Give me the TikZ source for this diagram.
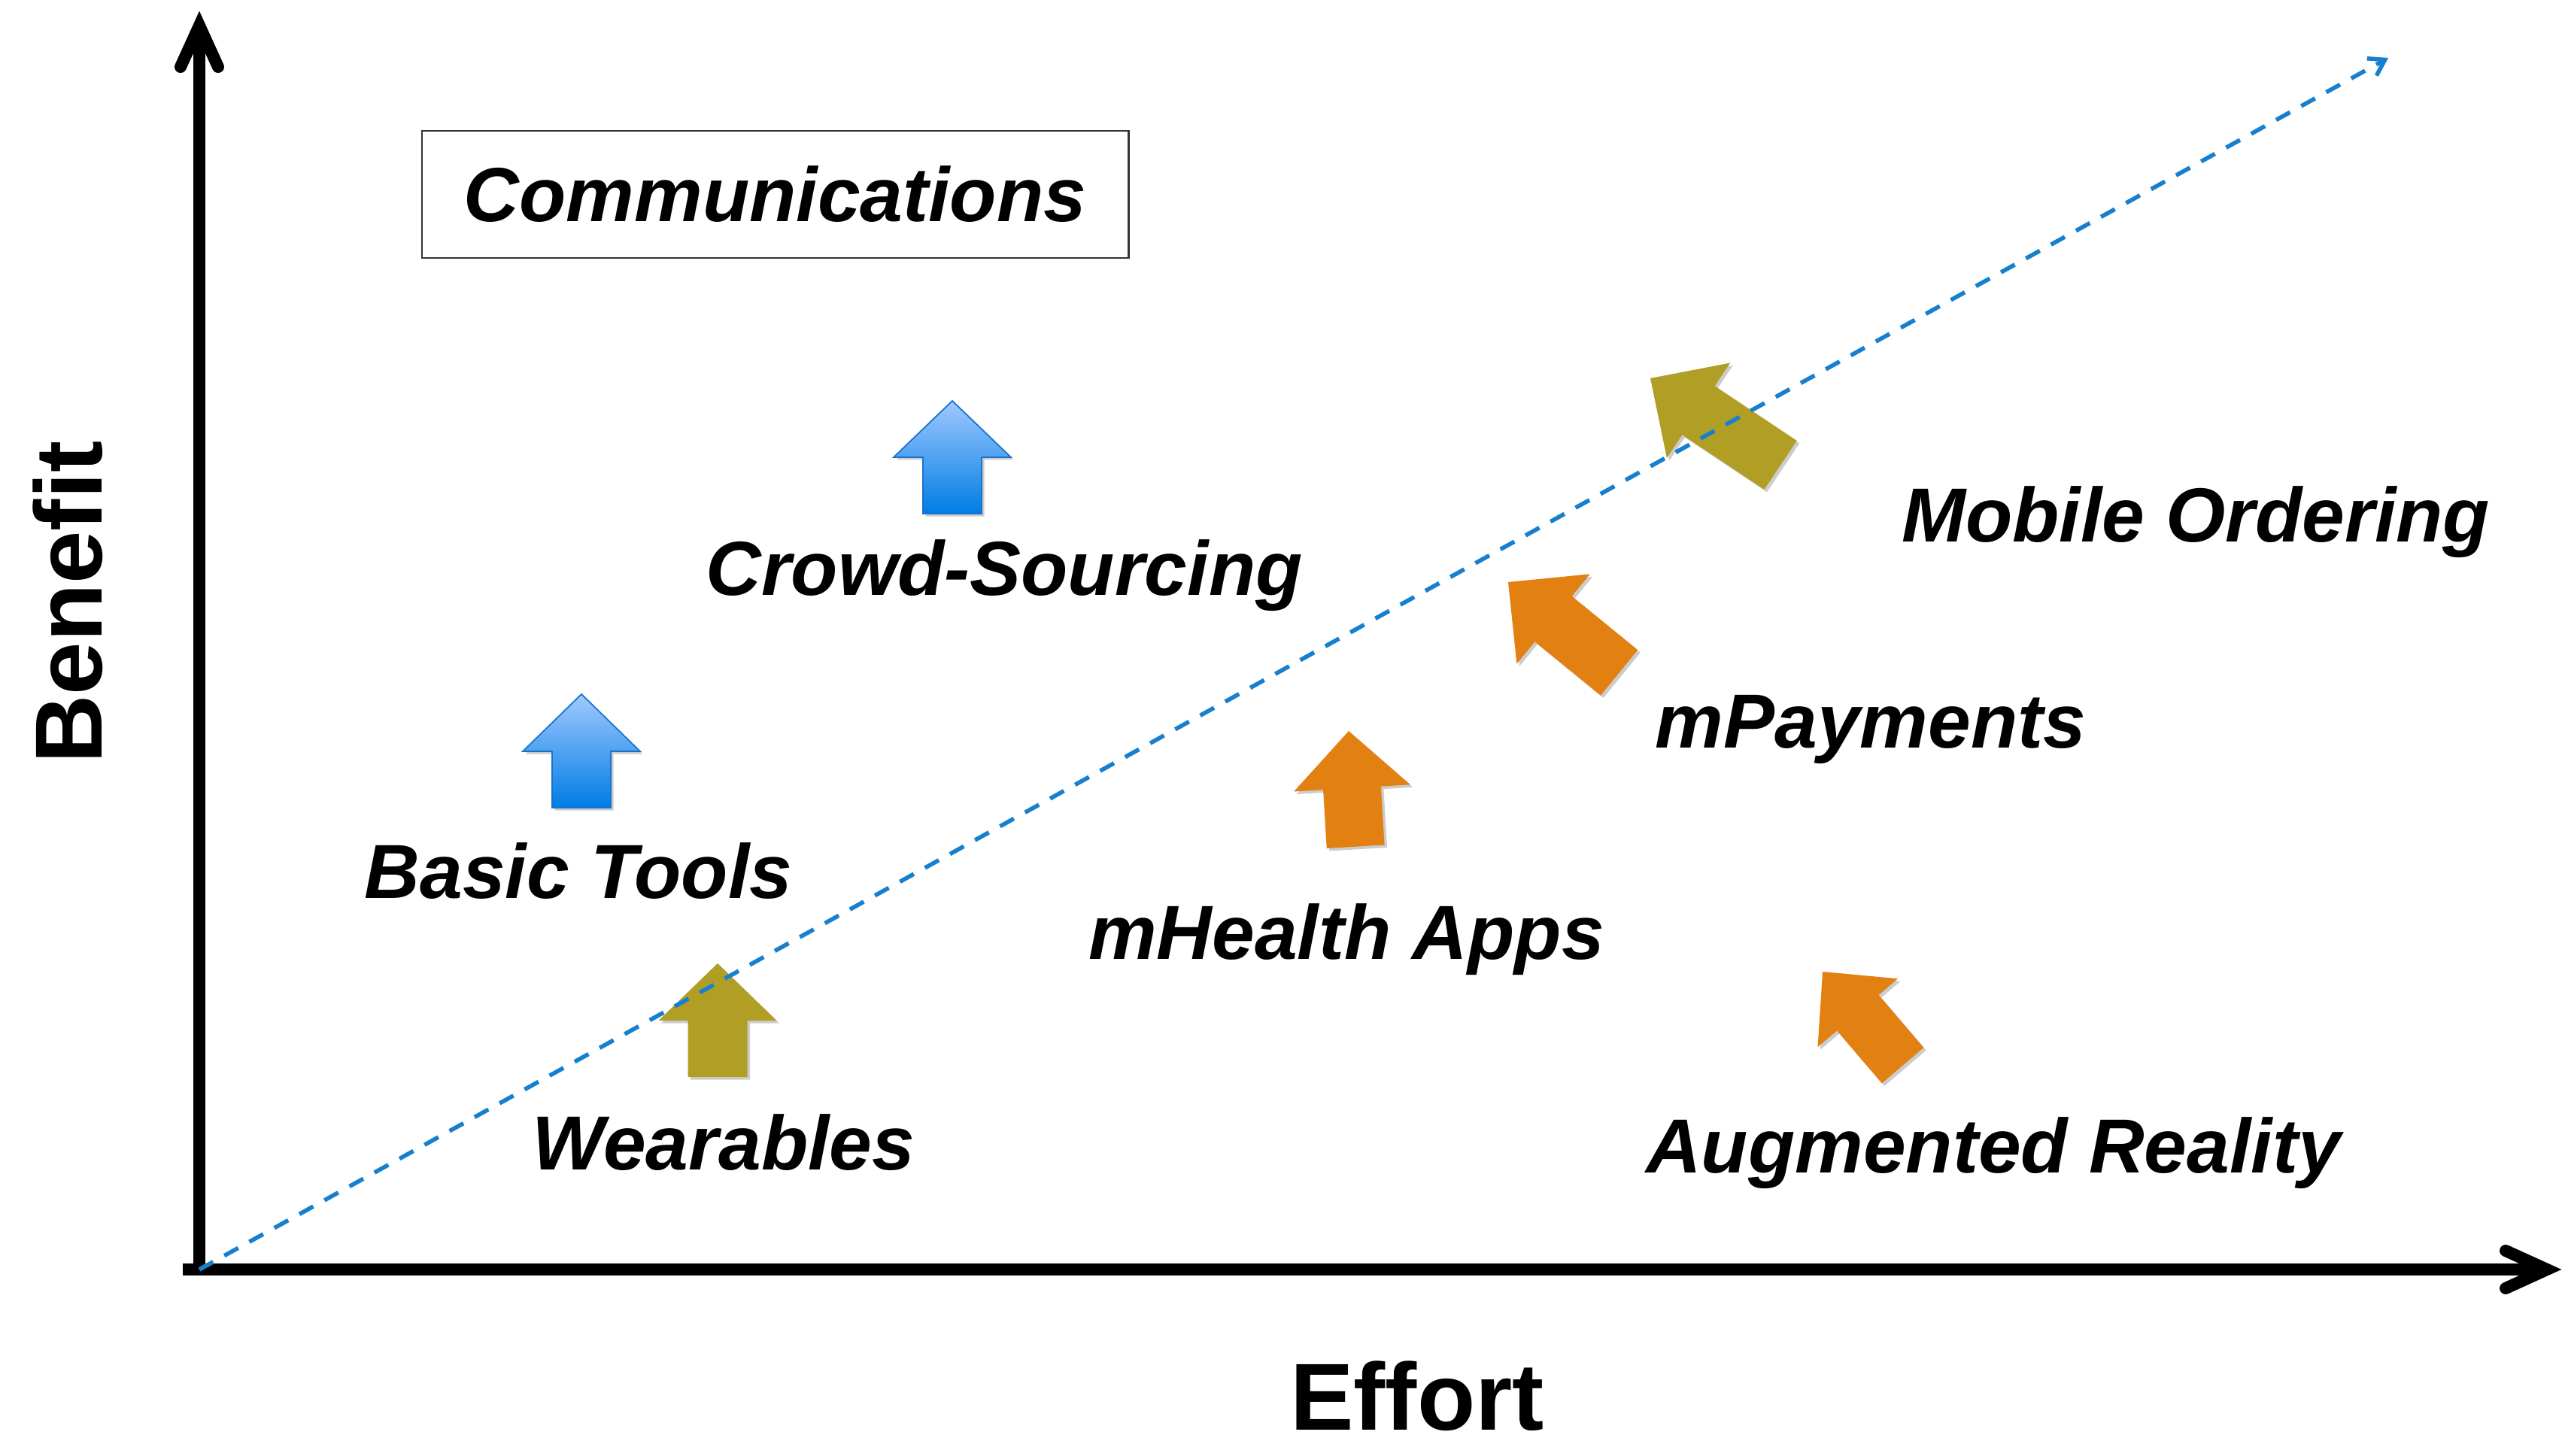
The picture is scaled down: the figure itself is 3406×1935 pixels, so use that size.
\documentclass[tikz,border=0pt]{standalone}
\usepackage{fontspec}
\setmainfont{Liberation Sans}
\usetikzlibrary{arrows.meta,shadows}

\definecolor{olivefill}{RGB}{177,158,37}
\definecolor{orangefill}{RGB}{227,128,18}
\definecolor{bluetop}{RGB}{160,200,255}
\definecolor{bluebottom}{RGB}{0,125,228}
\definecolor{blueedge}{RGB}{25,115,205}
\definecolor{trendblue}{RGB}{22,128,208}

% block arrow: apex at #2, turned by #3, head length #4, head width #5,
% shaft width #6, shaft length #7
\newcommand{\blockarrow}[7]{%
  \path[#1, shift={(#2)}, rotate=#3]
    (0,0) -- ({#5/2},{-#4}) -- ({#6/2},{-#4}) -- ({#6/2},{-#4-#7})
    -- ({-#6/2},{-#4-#7}) -- ({-#6/2},{-#4}) -- ({-#5/2},{-#4}) -- cycle;}

\tikzset{
  shadowed/.style={drop shadow={shadow xshift=0.035cm, shadow yshift=-0.035cm,
      opacity=0.2, fill=black}},
  bluearrow/.style={shadowed, top color=bluetop, bottom color=bluebottom,
      draw=blueedge, line width=0.5pt},
  olivearrow/.style={shadowed, fill=olivefill},
  orangearrow/.style={shadowed, fill=orangefill},
  axisline/.style={line width=0.16cm, black},
  axishead/.style={line width=0.16cm, black, line cap=round, line join=miter,
      miter limit=10},
  trend/.style={trendblue, line width=0.055cm, dash pattern=on 0.21cm off 0.17cm,
      -{Straight Barb[length=0.2cm,width=0.26cm]}},
  itemlabel/.style={font=\fontsize{29}{34}\selectfont\bfseries\itshape,
      anchor=base, inner sep=0pt},
  axislabel/.style={font=\fontsize{36}{42}\selectfont\bfseries,
      anchor=base, inner sep=0pt},
}

\begin{document}
\begin{tikzpicture}[x=0.01cm, y=0.01cm]
\useasboundingbox (0,0) rectangle (3406,1935);

% axes
\coordinate (O) at (265,247);
\coordinate (xstart) at (243,247);
\coordinate (xshaft) at (3370,247);
\coordinate (xtip) at (3386,247);
\coordinate (ystart) at (265,239);
\coordinate (yshaft) at (265,1885);
\coordinate (ytip) at (265,1901);
\draw[axisline, black!25, opacity=0.6, shift={(4,-5)}] (xstart) -- (xshaft);
\draw[axisline, black!25, opacity=0.6, shift={(4,-5)}] (ystart) -- (yshaft);
\draw[axisline] (xstart) -- (xshaft);
\draw[axisline] (ystart) -- (yshaft);
\draw[axishead] ([shift={(-55,25)}]xtip) -- (xtip) -- ([shift={(-55,-25)}]xtip);
\draw[axishead] ([shift={(-25,-55)}]ytip) -- (ytip) -- ([shift={(25,-55)}]ytip);

% block arrows
\coordinate (crowdtip) at (1266,1402);
\coordinate (basictip) at (773,1012);
\coordinate (weartip) at (954,654);
\coordinate (healthtip) at (1793,963);
\coordinate (paytip) at (2005,1161);
\coordinate (ordertip) at (2194,1432);
\coordinate (augtip) at (2423,643);
\blockarrow{bluearrow}{crowdtip}{0}{75}{156}{78}{75}
\blockarrow{bluearrow}{basictip}{0}{76}{156}{78}{75}
\blockarrow{olivearrow}{weartip}{0}{76}{157}{79}{75}
\blockarrow{orangearrow}{healthtip}{3.4}{76}{155}{77}{78}
\blockarrow{orangearrow}{paytip}{50.8}{77.5}{154}{78}{113}
\blockarrow{olivearrow}{ordertip}{56.3}{77}{152}{78}{131}
\blockarrow{orangearrow}{augtip}{40.5}{72}{140}{73}{92}

% trend line
\coordinate (trendend) at (3175,1858);
\draw[trend, black!30, opacity=0.5, shift={(3,-4)}] (O) -- (trendend);
\draw[trend] (O) -- (trendend);

% framed label
\node[draw=black!80, line width=0.7pt, minimum width=9.39cm, minimum height=1.69cm,
      inner sep=0pt, font=\fontsize{29}{34}\selectfont\bfseries\itshape]
      (comm) at (1030.5,1676.5) {Communications};

% item labels
\node[itemlabel] (crowd) at (1335,1143) {Crowd-Sourcing};
\node[itemlabel] (basic) at (769,741) {Basic Tools};
\node[itemlabel] (wear) at (962,380) {Wearables};
\node[itemlabel] (health) at (1790,660) {mHealth Apps};
\node[itemlabel] (pay) at (2487,941) {mPayments};
\node[itemlabel] (order) at (2919,1214) {Mobile Ordering};
\node[itemlabel] (aug) at (2650,376) {Augmented Reality};

% axis labels
\node[axislabel] (effort) at (1884,34) {Effort};
\node[axislabel, rotate=90] (benefit) at (135,1134) {Benefit};
\end{tikzpicture}
\end{document}
